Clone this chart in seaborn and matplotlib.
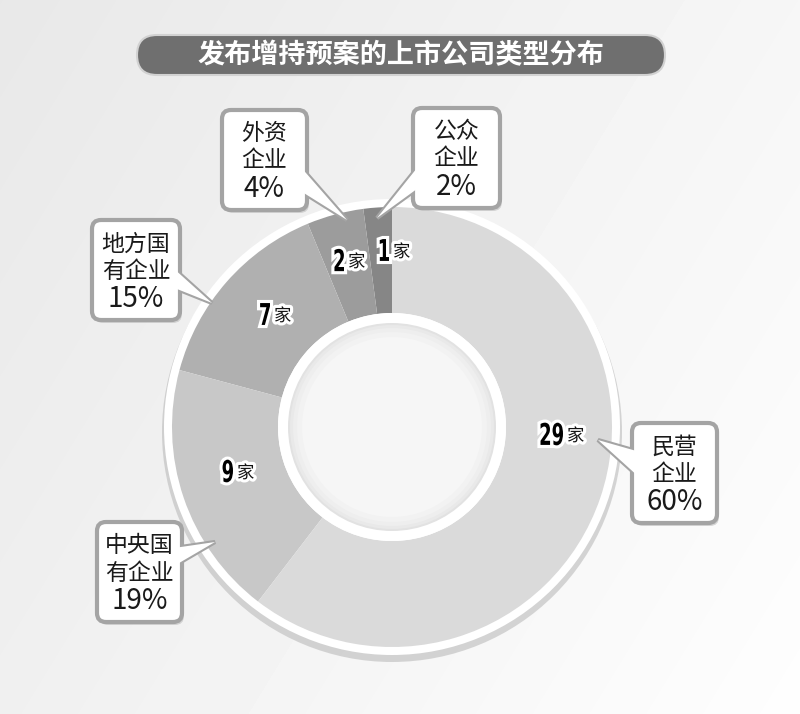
import numpy as np
import matplotlib
matplotlib.use("Agg")
import matplotlib.pyplot as plt
import matplotlib.patheffects as pe
from matplotlib.patches import FancyBboxPatch, Polygon, Circle, PathPatch
from matplotlib.textpath import TextPath
from matplotlib.font_manager import FontProperties
from matplotlib.transforms import Affine2D
import seaborn as sns

# DATA (counter-clockwise from 12 o'clock)
categories = ["公众企业", "外资企业", "地方国有企业", "中央国有企业", "民营企业"]
box_names = [["公众", "企业"], ["外资", "企业"], ["地方国", "有企业"], ["中央国", "有企业"], ["民营", "企业"]]
counts = [1, 2, 7, 9, 29]
unit = "家"
title = "发布增持预案的上市公司类型分布"

total = sum(counts)
percents = [round(c / total * 100) for c in counts]

sns.set_theme(style="white")
plt.rcParams["font.family"] = ["Noto Sans CJK SC", "DejaVu Sans"]
greys = sns.color_palette(["#868686", "#9c9c9c", "#b0b0b0", "#c8c8c8", "#dadada"])

W, H = 800, 714
fig = plt.figure(figsize=(8, 7.14), dpi=100)
ax = fig.add_axes([0, 0, 1, 1])

# background gradient
yy, xx = np.mgrid[0:H, 0:W]
bg = 0.91 + 0.055 * xx / W + 0.03 * yy / H
ax.imshow(bg, cmap="gray", vmin=0, vmax=1, extent=(0, W, H, 0), zorder=0)

# donut
cx, cy = 392, 427
ax.add_patch(Circle((cx, cy + 5), 230, color="#b5b5b5", alpha=0.55, lw=0, zorder=1))
ax.add_patch(Circle((cx, cy), 228, color="white", lw=0, zorder=2))
wedges, _ = ax.pie(counts, colors=greys, startangle=270, counterclock=False,
                   radius=220, center=(cx, cy), frame=True,
                   wedgeprops=dict(width=106, linewidth=0, zorder=3))
ax.add_patch(Circle((cx, cy), 114, color="white", lw=0, zorder=4))
# hole with soft inner shadow
for r, g in zip([104, 102, 99, 95, 90], ["#e2e2e2", "#e9e9e9", "#eeeeee", "#f2f2f2", "#f6f6f6"]):
    ax.add_patch(Circle((cx, cy), r, color=g, lw=0, zorder=5))

# value labels on the ring: condensed heavy digits + small unit
label_xy = [(389, 250), (344, 260), (270, 314), (233, 471), (563, 434)]
stroke = [pe.withStroke(linewidth=4.5, foreground="white")]
digit_prop = FontProperties(family="DejaVu Sans", weight="bold")
for n, (x, y) in zip(counts, label_xy):
    tp = TextPath((0, 0), str(n), size=30, prop=digit_prop)
    ext = tp.get_extents()
    tr = Affine2D().translate(-ext.x1, -(ext.y0 + ext.y1) / 2).scale(0.6, -1).translate(x, y)
    ax.add_patch(PathPatch(tr.transform_path(tp), fc="black", ec="none",
                           path_effects=stroke, zorder=8))
    ax.text(x + 4, y + 2, unit, ha="left", va="center", color="#111111",
            fontsize=12.5, path_effects=stroke, zorder=8)

# callout boxes: (x0, y0, x1, y1), tail base points (inside box), tail tip
callouts = [
    dict(box=(413, 108, 500, 208), base=[(421, 163), (421, 186)], tip=(377, 218)),
    dict(box=(222, 110, 307, 210), base=[(299, 165), (299, 190)], tip=(347, 220)),
    dict(box=(92, 220, 180, 320), base=[(172, 267), (172, 287)], tip=(212, 303)),
    dict(box=(97, 522, 182, 622), base=[(174, 548), (174, 566)], tip=(215, 542)),
    dict(box=(632, 423, 717, 523), base=[(640, 452), (640, 478)], tip=(598, 440)),
]
edge = "#a4a4a4"
for co, names, pct in zip(callouts, box_names, percents):
    x0, y0, x1, y1 = co["box"]
    pts = [co["base"][0], co["tip"], co["base"][1]]
    ax.add_patch(FancyBboxPatch((x0 + 2, y0 + 3), x1 - x0, y1 - y0,
                                boxstyle="round,pad=0,rounding_size=9",
                                fc="#bdbdbd", ec="none", alpha=0.6, zorder=6))
    ax.add_patch(Polygon(pts, closed=True, fc="white", ec=edge, lw=3, zorder=6))
    ax.add_patch(FancyBboxPatch((x0, y0), x1 - x0, y1 - y0,
                                boxstyle="round,pad=0,rounding_size=9",
                                fc="white", ec=edge, lw=3, zorder=6.5))
    ax.add_patch(Polygon(pts, closed=True, fc="white", ec="none", lw=0, zorder=6.6))
    tx = (x0 + x1) / 2
    ax.text(tx, y0 + 24, names[0], ha="center", va="center", fontsize=16.5,
            color="#1a1a1a", weight="medium", zorder=7)
    ax.text(tx, y0 + 51, names[1], ha="center", va="center", fontsize=16.5,
            color="#1a1a1a", weight="medium", zorder=7)
    ax.text(tx, y0 + 79, f"{pct}%", ha="center", va="center", fontsize=20,
            color="#1a1a1a", zorder=7)

# title bar
ax.add_patch(FancyBboxPatch((137, 35), 528, 40, boxstyle="round,pad=0,rounding_size=20",
                            fc="#6f6f6f", ec="#d2d2d2", lw=1.5, zorder=6))
ax.text(401, 55, title, ha="center", va="center", color="white", fontsize=19.5,
        weight="bold", zorder=7)

ax.set_xlim(0, W)
ax.set_ylim(H, 0)
ax.set_aspect("equal")
ax.axis("off")

plt.savefig("out.png", dpi=100)
